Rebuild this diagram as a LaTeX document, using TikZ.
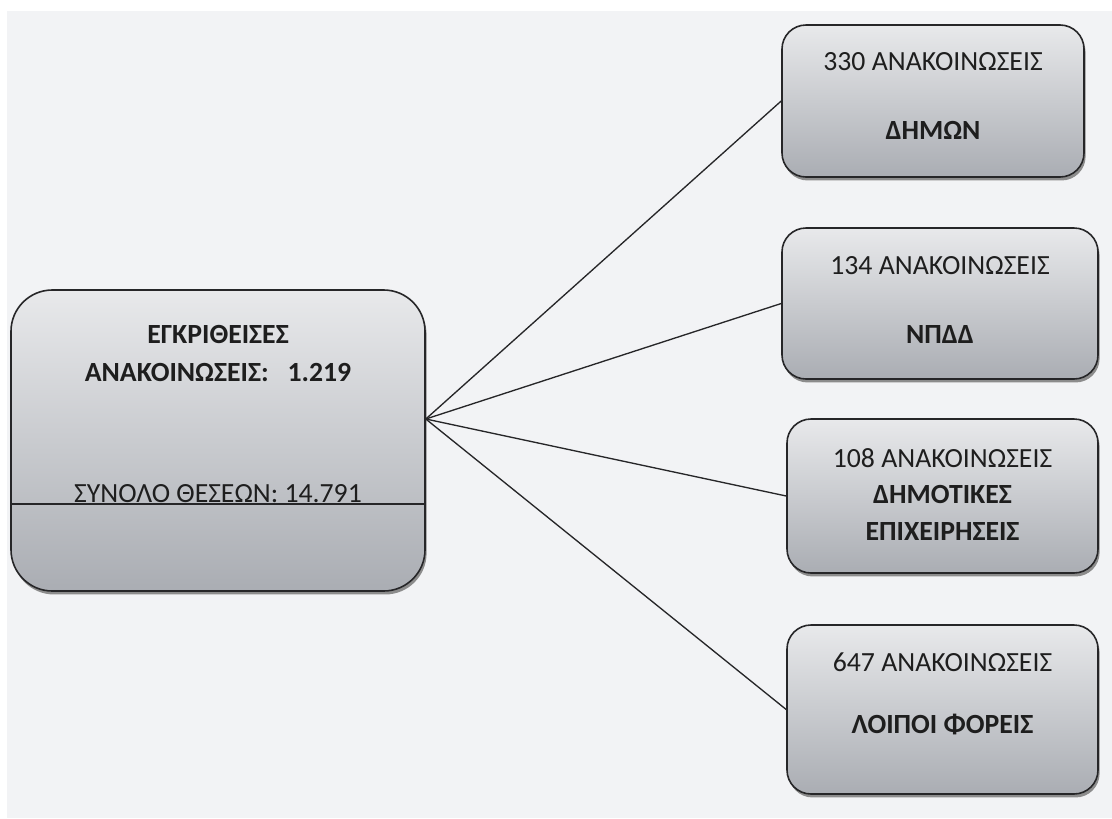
\documentclass[tikz,border=0pt]{standalone}
\usepackage{fontspec}
\setmainfont{Carlito}
\usepackage{tikz}
\usetikzlibrary{positioning}
\usetikzlibrary{shadows}
\definecolor{bggray}{RGB}{242,243,245}
\definecolor{boxtop}{RGB}{232,233,235}
\definecolor{boxbottom}{RGB}{170,173,179}
\definecolor{edgegray}{RGB}{38,38,40}
\definecolor{txtgray}{RGB}{30,30,30}
\tikzset{
        box/.style={draw=edgegray,line width=1.2pt,top color=boxtop,bottom color=boxbottom,
                drop shadow={shadow xshift=1.2pt,shadow yshift=-2.6pt,fill=black!45,opacity=1}},
        mainbox/.style={box,rounded corners=31pt,minimum width=310.5pt,minimum height=225.75pt},
        subbox/.style={box,rounded corners=18pt,inner sep=0pt},
        lbl/.style={anchor=base,inner sep=0pt,text=txtgray,font=\fontsize{20.8}{24}\selectfont},
        blbl/.style={lbl,font=\fontsize{20.8}{24}\selectfont\bfseries},
        link/.style={draw=edgegray,line width=1pt},
        }

\begin{document}
\begin{tikzpicture}[x=0.75pt,y=-0.75pt]
			% background
			\useasboundingbox (0,0) rectangle (1112,818);
			\fill [bggray] (7,11) rectangle (1112,818);

			% main box
			\node [mainbox] (main) at (218,440.5) {};
			\coordinate (sep) at (218,504);
			\draw [edgegray, line width=1pt] (main.west |- sep) -- (main.east |- sep);
			\node [blbl] (mainA) at (218,343) {ΕΓΚΡΙΘΕΙΣΕΣ};
			\node [blbl] (mainB) at (218,381) {ΑΝΑΚΟΙΝΩΣΕΙΣ:\ \ \ 1.219};
			\node [lbl] (mainC) at (218,502) {ΣΥΝΟΛΟ ΘΕΣΕΩΝ: 14.791};

			% right boxes
			\node [subbox, minimum width=226.5pt, minimum height=114pt] (dim) at (933,101) {};
			\node [subbox, minimum width=237pt, minimum height=113.25pt] (npdd) at (940,303.5) {};
			\node [subbox, minimum width=233.25pt, minimum height=115.5pt] (deyp) at (942.5,496) {};
			\node [subbox, minimum width=233.25pt, minimum height=126.75pt] (loip) at (942.5,709.5) {};

			% texts of right boxes
			\node [lbl] (dimA) at (933,70) {330 ΑΝΑΚΟΙΝΩΣΕΙΣ};
			\node [blbl] (dimB) at (933,139) {ΔΗΜΩΝ};
			\node [lbl] (npddA) at (940,274) {134 ΑΝΑΚΟΙΝΩΣΕΙΣ};
			\node [blbl] (npddB) at (940,343) {ΝΠΔΔ};
			\node [lbl] (deypA) at (942.5,467) {108 ΑΝΑΚΟΙΝΩΣΕΙΣ};
			\node [blbl] (deypB) at (942.5,503) {ΔΗΜΟΤΙΚΕΣ};
			\node [blbl] (deypC) at (942.5,540) {ΕΠΙΧΕΙΡΗΣΕΙΣ};
			\node [lbl] (loipA) at (942.5,671) {647 ΑΝΑΚΟΙΝΩΣΕΙΣ};
			\node [blbl] (loipB) at (942.5,733) {ΛΟΙΠΟΙ ΦΟΡΕΙΣ};

			% links
			\coordinate (hub) at (main.east |- 0,419);
			\foreach \t in {dim,npdd,deyp,loip}
				\draw [link] (hub) -- (\t.west);
		\end{tikzpicture}
\end{document}
